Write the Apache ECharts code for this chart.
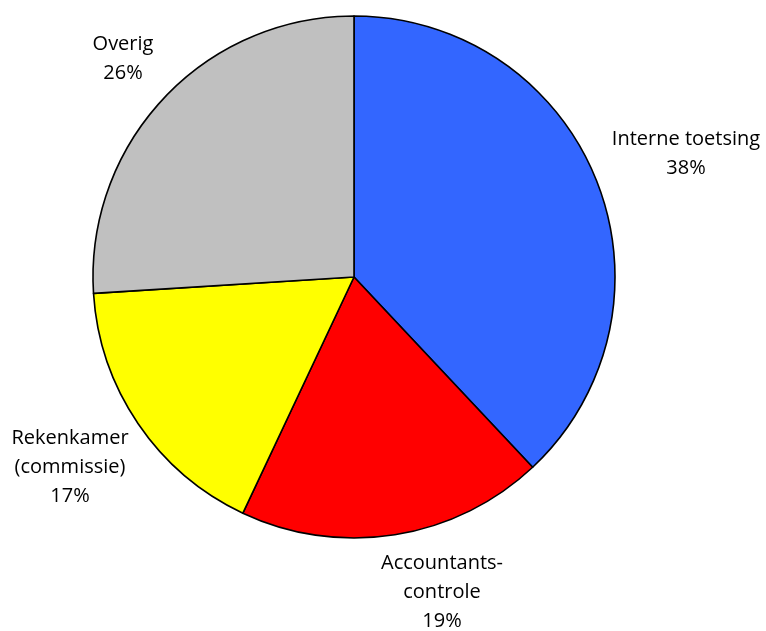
<!DOCTYPE html>
<html>
<head>
<meta charset="utf-8">
<script src="https://cdn.jsdelivr.net/npm/echarts@6/dist/echarts.min.js"></script>
<style>
  html, body { margin: 0; padding: 0; background: #ffffff; }
  #chart { width: 766px; height: 631px; }
</style>
</head>
<body>
<div id="chart"></div>
<script>
// Slice names (line breaks as printed) and shares in percent
const categories = ['Interne toetsing', 'Accountants-\ncontrole', 'Rekenkamer\n(commissie)', 'Overig'];
const values = [38, 19, 17, 26];
const colors = ['#3366ff', '#ff0000', '#ffff00', '#c0c0c0'];

// Label block centres, in pixels
const labelCentres = [[686, 154], [442, 592], [70, 467], [123, 59]];

const chart = echarts.init(document.getElementById('chart'), null, { renderer: 'canvas' });

chart.setOption({
  backgroundColor: '#ffffff',
  animation: false,
  series: [{
    type: 'pie',
    center: [354, 277],
    radius: 261,
    startAngle: 90,
    clockwise: true,
    avoidLabelOverlap: false,
    data: categories.map((name, i) => ({
      name: name,
      value: values[i],
      itemStyle: { color: colors[i] }
    })),
    itemStyle: { borderColor: '#000000', borderWidth: 1.6 },
    label: {
      show: true,
      position: 'outside',
      formatter: p => p.name + '\n' + p.value + '%',
      fontFamily: 'Open Sans',
      fontSize: 20,
      lineHeight: 29,
      color: '#000000',
      align: 'center',
      overflow: 'none',
      width: 200
    },
    labelLine: { show: false },
    labelLayout: params => {
      const c = labelCentres[params.dataIndex];
      return { x: c[0], y: c[1], align: 'center', verticalAlign: 'middle' };
    },
    emphasis: { disabled: true }
  }]
});
</script>
</body>
</html>
